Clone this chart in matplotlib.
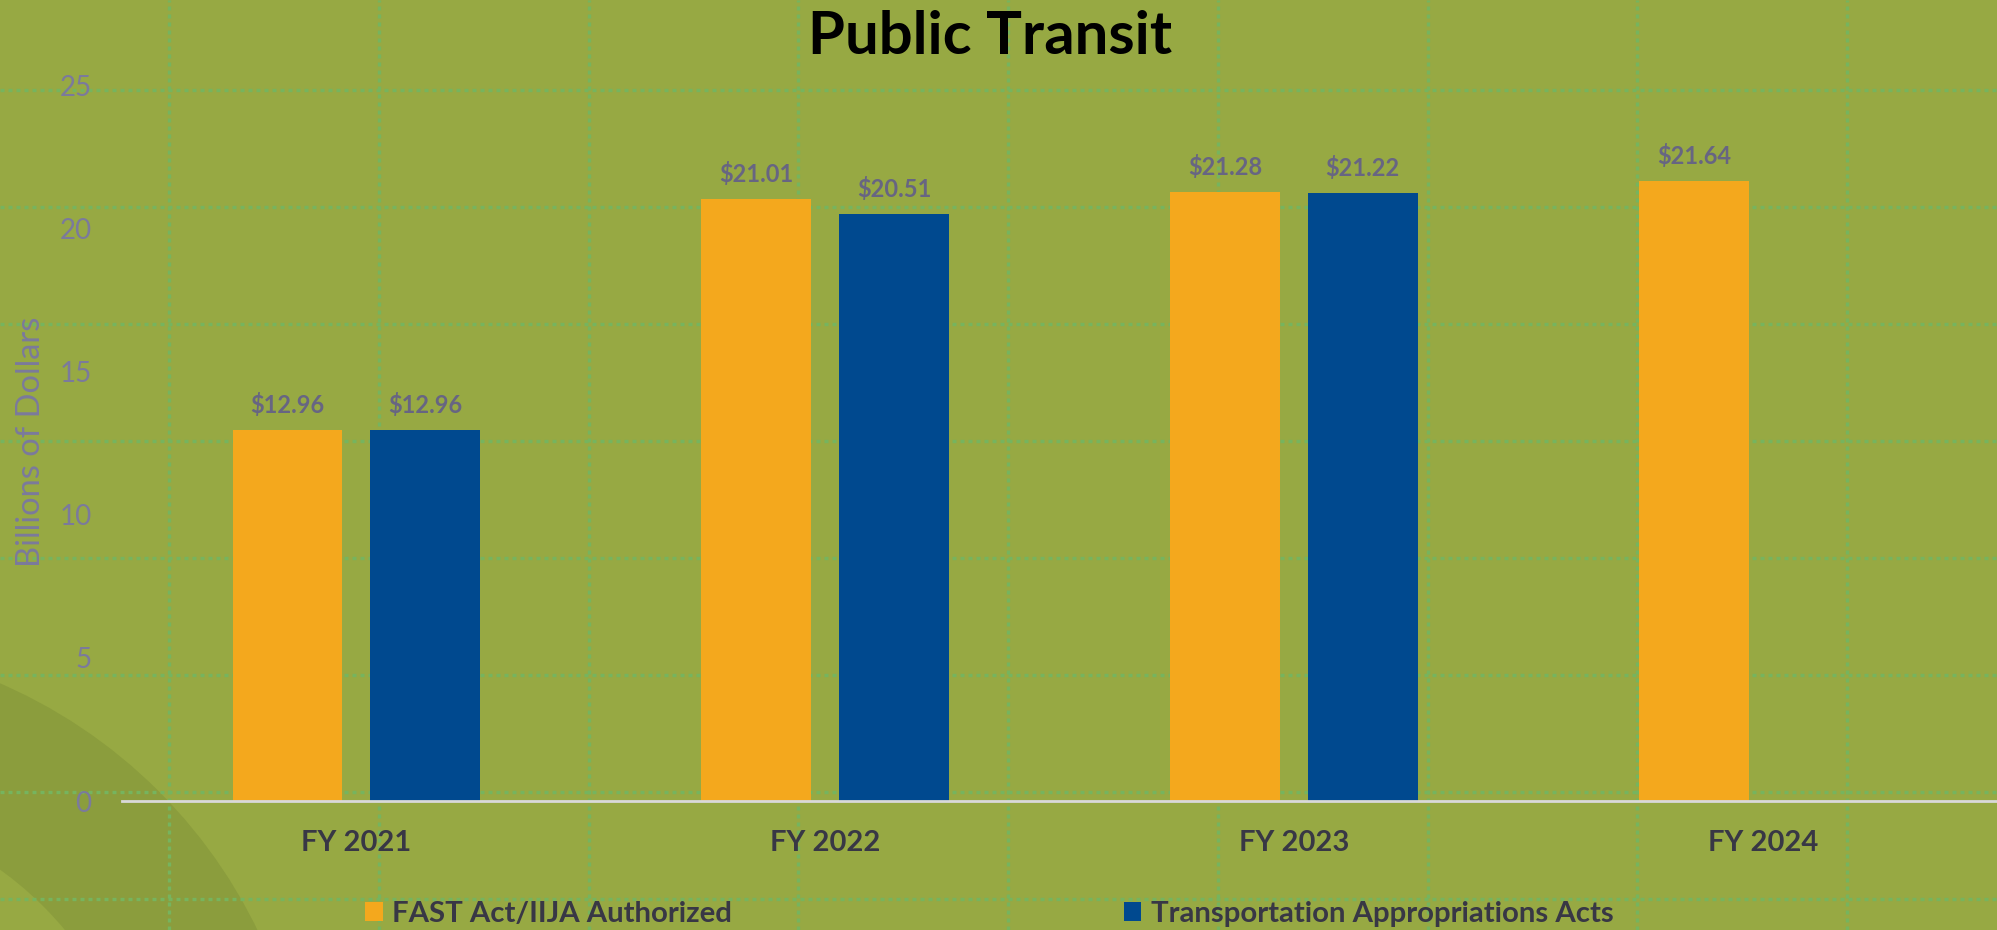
import numpy as np
import matplotlib
matplotlib.use("Agg")
import matplotlib.pyplot as plt
from matplotlib.patches import Annulus

plt.rcParams['font.family'] = ['Lato', 'DejaVu Sans']

# data
years = ['FY 2021', 'FY 2022', 'FY 2023', 'FY 2024']
authorized = [12.96, 21.01, 21.28, 21.64]
appropriated = [12.96, 20.51, 21.22, np.nan]
series_names = ['FAST Act/IIJA Authorized', 'Transportation Appropriations Acts']
yticks = [0, 5, 10, 15, 20, 25]

# colours
bg = '#97A943'
ring = '#8B9D3D'
dots = '#76B45E'
orange = '#F4A81D'
blue = '#00498F'
tick_col = '#7B7A9C'
value_col = '#676582'
text_col = '#383745'

fig = plt.figure(figsize=(19.97, 9.30), dpi=100, facecolor=bg)

# background decoration: darker ring in the lower left corner
fig.add_artist(Annulus((-2.04, -2.24), 5.13, 1.63, transform=fig.dpi_scale_trans,
                       facecolor=ring, edgecolor='none', zorder=0))

# background dotted grid (slide texture), in inches
for gx in 1.69 + 2.0975 * np.arange(9):
    fig.add_artist(plt.Line2D([gx, gx], [0, 9.30], transform=fig.dpi_scale_trans,
                              color=dots, lw=2.4, dashes=(1.2, 1.2), zorder=0.5))
for gy in [0.90, 2.07, 3.24, 4.41, 5.58, 6.75, 7.92, 8.99]:
    fig.add_artist(plt.Line2D([0, 19.97], [9.30 - gy] * 2, transform=fig.dpi_scale_trans,
                              color=dots, lw=2.4, dashes=(1.2, 1.2), zorder=0.5))

ax = fig.add_axes([122 / 1997, 1 - 801 / 930, 1 - 122 / 1997, (801 - 85) / 930])
ax.set_facecolor('none')
ax.set_zorder(2)

x = np.arange(len(years))
w = 0.234
off = 0.147
b1 = ax.bar(x - off, authorized, w, color=orange, label=series_names[0], zorder=2)
b2 = ax.bar(x + off, appropriated, w, color=blue, label=series_names[1], zorder=2)

for bars, vals in [(b1, authorized), (b2, appropriated)]:
    for rect, v in zip(bars, vals):
        if np.isnan(v):
            continue
        ax.annotate('${:.2f}'.format(v), (rect.get_x() + rect.get_width() / 2, v),
                    xytext=(0, 18), textcoords='offset points', ha='center', va='center',
                    fontsize=17, fontweight='bold', color=value_col)

ax.set_xlim(-0.5, 3.5)
ax.set_ylim(0, 25)
ax.set_yticks(yticks)
ax.set_xticks(x)
ax.set_xticklabels(years, fontsize=21, fontweight='bold', color=text_col)
ax.tick_params(axis='x', length=0, pad=21)
ax.tick_params(axis='y', length=0, pad=22, labelsize=20, labelcolor=tick_col)
for s in ['top', 'right', 'left']:
    ax.spines[s].set_visible(False)
ax.spines['bottom'].set_color('#D9D9D9')
ax.spines['bottom'].set_linewidth(2)

fig.text(31 / 1997, 1 - 442 / 930, 'Billions of Dollars', rotation=90, ha='center', va='center',
         fontsize=23.5, color=tick_col)

fig.text(990 / 1997, 1 - 37 / 930, 'Public Transit', ha='center', va='center',
         fontsize=43, fontweight='bold', color='black')

leg = fig.legend(handles=[b1, b2], loc='center left', bbox_to_anchor=(365 / 1997, 1 - 914 / 930),
                 ncol=2, frameon=False, fontsize=21.2, handlelength=0.6, handleheight=0.6,
                 handletextpad=0.32, columnspacing=13.3, borderaxespad=0, borderpad=0)
for t in leg.get_texts():
    t.set_color(text_col)
    t.set_fontweight('bold')

fig.savefig('out.png', dpi=100, facecolor=bg)
